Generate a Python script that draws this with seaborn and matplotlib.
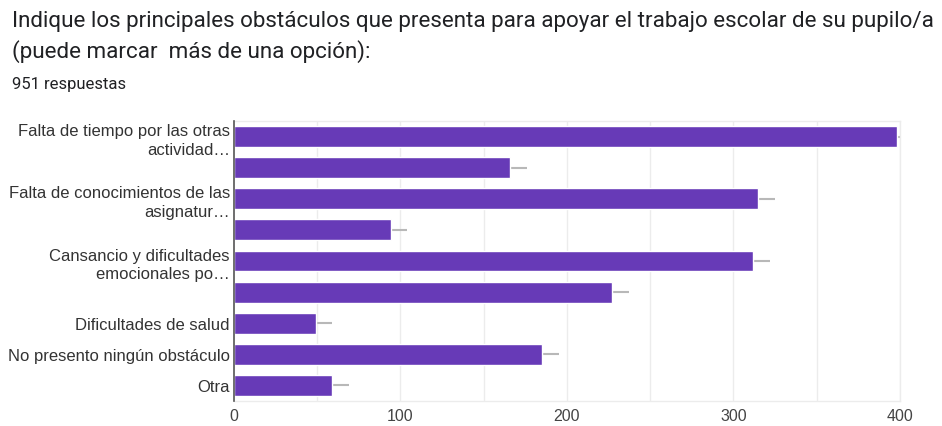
import matplotlib
matplotlib.use("Agg")
import matplotlib.pyplot as plt
import seaborn as sns
import pandas as pd
import numpy as np

# ---- data ----
categories = [
    "Falta de tiempo por las otras actividades",
    "Opción 2",
    "Falta de conocimientos de las asignaturas",
    "Opción 4",
    "Cansancio y dificultades emocionales por",
    "Opción 6",
    "Dificultades de salud",
    "No presento ningún obstáculo",
    "Otra",
]
tick_labels = [
    "Falta de tiempo por las otras\nactividad…",
    "",
    "Falta de conocimientos de las\nasignatur…",
    "",
    "Cansancio y dificultades\nemocionales po…",
    "",
    "Dificultades de salud",
    "No presento ningún obstáculo",
    "Otra",
]
counts = [398, 166, 315, 94, 312, 227, 49, 185, 59]
x_ticks = [0, 100, 200, 300, 400]

title_lines = [
    "Indique los principales obstáculos que presenta para apoyar el trabajo escolar de su pupilo/a",
    "(puede marcar  más de una opción):",
]
subtitle = "951 respuestas"

df = pd.DataFrame({"cat": categories, "n": counts})

sns.set_theme(style="white")
plt.rcParams["font.family"] = ["Liberation Sans", "DejaVu Sans"]

fig = plt.figure(figsize=(9.42, 4.27), dpi=100)
ax = fig.add_axes([0.2484, 0.0585, 0.7070, 0.6557])

# light grid every 50
for g in np.arange(50, 401, 50):
    ax.axvline(g, color="#ececec", lw=1, zorder=0)

purple = "#673ab7"
sns.barplot(data=df, y="cat", x="n", orient="h", color=purple, width=0.67,
            saturation=1, ax=ax, zorder=2)

# short gray leader lines after each bar
ax.hlines(y=np.arange(len(counts)), xmin=np.array(counts), xmax=np.array(counts) + 10,
          color="#b8b8b8", lw=1.5, zorder=1)

ax.set_xlim(0, 400)
ax.set_ylim(len(counts) - 0.5, -0.5)
ax.set_xticks(x_ticks)
ax.set_xticklabels([str(t) for t in x_ticks], fontsize=11.5, color="#444444")
ax.set_yticks(range(len(categories)))
ax.set_yticklabels(tick_labels, fontsize=12, color="#333333", linespacing=1.3)
ax.set_xlabel("")
ax.set_ylabel("")
ax.tick_params(axis="y", length=0, pad=3)
ax.tick_params(axis="x", length=0, pad=5)

for s in ["top", "right", "bottom"]:
    ax.spines[s].set_color("#ececec")
    ax.spines[s].set_linewidth(1)
ax.spines["left"].set_color("#555555")
ax.spines["left"].set_linewidth(1.2)
ax.spines["left"].set_zorder(3)

for i, line in enumerate(title_lines):
    fig.text(12 / 942, 1 - (22 + 30 * i) / 427, line, fontsize=16.1, color="#202124",
             ha="left", va="center", family=["Roboto", "DejaVu Sans"])
fig.text(12 / 942, 1 - 84 / 427, subtitle, fontsize=12, color="#202124",
         ha="left", va="center", family=["Roboto", "DejaVu Sans"])

fig.savefig("out.png", dpi=100)
